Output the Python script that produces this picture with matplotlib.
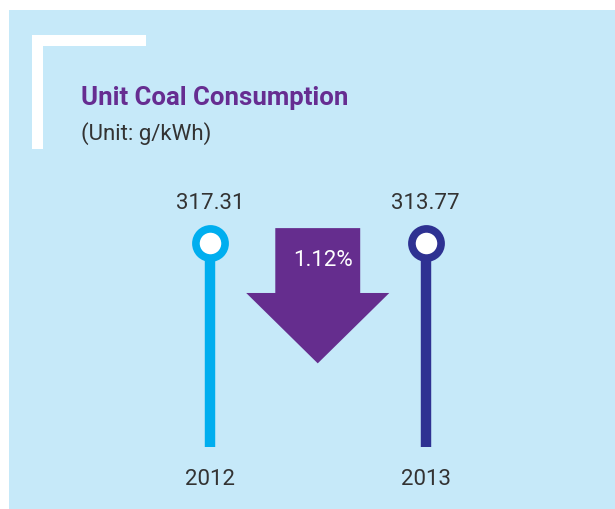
import matplotlib.pyplot as plt
from matplotlib.patches import Rectangle, Polygon

# data
years = ['2012', '2013']
values = [317.31, 313.77]
change_pct = 1.12
colors = ['#00aeef', '#2e3192']

title = 'Unit Coal Consumption'
subtitle = '(Unit: g/kWh)'

plt.rcParams['font.family'] = ['Roboto', 'DejaVu Sans']

fig = plt.figure(figsize=(6.15, 5.10), dpi=100)
fig.patch.set_facecolor('white')

# background panel + white bracket (pixel coords)
bg = fig.add_axes([0, 0, 1, 1])
bg.set_xlim(0, 615)
bg.set_ylim(510, 0)
bg.axis('off')
bg.add_patch(Rectangle((9, 11), 606, 499, color='#c6e9f9', lw=0))
bg.add_patch(Rectangle((32, 36), 11, 114, color='white', lw=0))
bg.add_patch(Rectangle((32, 36), 114, 11, color='white', lw=0))
bg.text(81, 105, title, color='#662d91', fontsize=18.5, fontweight='bold', va='baseline')
bg.text(81, 140, subtitle, color='#333333', fontsize=16, va='baseline')

# chart axes: x = category index, y = 0 at stem base, 1 at marker
left_px, unit_px = 210 - 0.5 * 215.5, 215.5
ax = fig.add_axes([left_px / 615, (510 - 448) / 510, 2 * unit_px / 615, 204 / 510])
ax.set_xlim(-0.5, 1.5)
ax.set_ylim(0, 1)
ax.axis('off')

for i, (yr, v, c) in enumerate(zip(years, values, colors)):
    ax.vlines(i, 0, 1, color=c, lw=7.5, zorder=2)
    ax.plot(i, 1, 'o', ms=21, mfc='white', mec=c, mew=5.5, zorder=3, clip_on=False)
    ax.annotate(f'{v:.2f}', (i, 1), xytext=(0, 25), textcoords='offset points',
                ha='center', va='baseline', fontsize=16, color='#333333',
                annotation_clip=False)
    ax.annotate(yr, (i, 0), xytext=(0, -26.5), textcoords='offset points',
                ha='center', va='baseline', fontsize=16, color='#333333',
                annotation_clip=False)

# down arrow between the two years
mid = 0.5
rw, hw = 0.197, 0.332
arrow = Polygon([(mid - rw, 1.073), (mid + rw, 1.073), (mid + rw, 0.755),
                 (mid + hw, 0.755), (mid, 0.41), (mid - hw, 0.755), (mid - rw, 0.755)],
                closed=True, color='#652d8e', lw=0, clip_on=False, zorder=1)
ax.add_patch(arrow)
ax.annotate(f'{change_pct:.2f}%', (mid, 1.073), xytext=(3.5, -26.5), textcoords='offset points',
            ha='center', va='baseline', fontsize=16, color='white',
            annotation_clip=False, zorder=4)

fig.savefig('out.png', dpi=100)
